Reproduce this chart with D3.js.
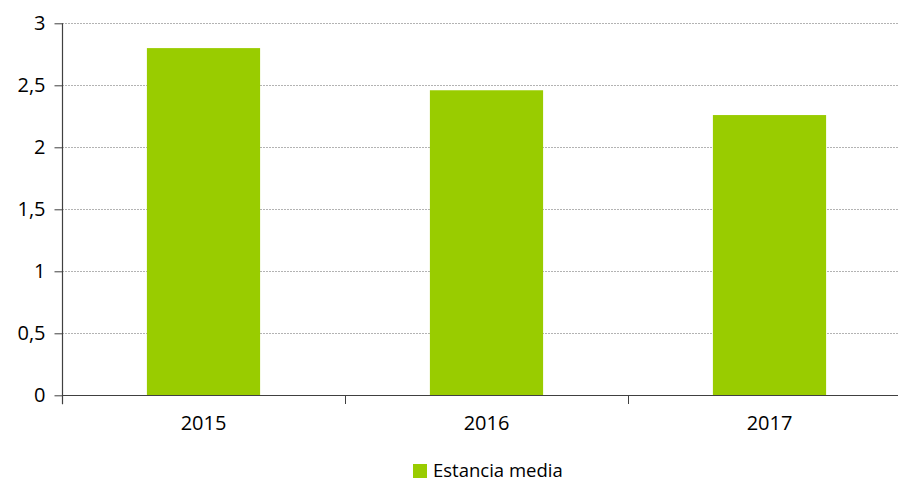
<!DOCTYPE html>
<html>
<head>
<meta charset="utf-8">
<script src="https://cdn.jsdelivr.net/npm/d3@7"></script>
<style>
  body { margin: 0; background: #fff; }
  text { font-family: "Open Sans", "Noto Sans", sans-serif; fill: #000; }
</style>
</head>
<body>
<div id="chart"></div>
<script>
// data
const years = ["2015", "2016", "2017"];
const estanciaMedia = [2.8, 2.46, 2.26];
const yTicks = [0, 0.5, 1, 1.5, 2, 2.5, 3];
const seriesName = "Estancia media";

const size = { width: 898, height: 483 };
const plot = { left: 62, right: 911, top: 23.3, bottom: 395.3 };

const svg = d3.select("#chart")
  .append("svg")
  .attr("width", size.width)
  .attr("height", size.height);

const x = d3.scaleBand()
  .domain(years)
  .range([plot.left, plot.right])
  .paddingInner(0.6)
  .paddingOuter(0.3);

const y = d3.scaleLinear()
  .domain([0, 3])
  .range([plot.bottom, plot.top]);

// grid lines
svg.append("g")
  .selectAll("line")
  .data(yTicks.filter(d => d > 0))
  .enter().append("line")
    .attr("x1", plot.left)
    .attr("x2", plot.right)
    .attr("y1", d => Math.round(y(d)) + 0.5)
    .attr("y2", d => Math.round(y(d)) + 0.5)
    .attr("stroke", "#b3b3b3")
    .attr("stroke-width", 1)
    .attr("stroke-dasharray", "2,1");

// bars
svg.append("g")
  .selectAll("rect")
  .data(estanciaMedia)
  .enter().append("rect")
    .attr("x", (d, i) => x(years[i]))
    .attr("y", d => y(d))
    .attr("width", x.bandwidth())
    .attr("height", d => y(0) - y(d))
    .attr("fill", "#99cc00");

// y axis
const yAxis = svg.append("g")
  .attr("transform", "translate(" + (plot.left + 0.5) + ",0)")
  .call(d3.axisLeft(y)
    .tickValues(yTicks)
    .tickSize(8)
    .tickPadding(9)
    .tickFormat(d => String(d).replace(".", ",")));

// x axis
const xAxis = svg.append("g")
  .attr("transform", "translate(0," + (Math.round(plot.bottom) + 0.5) + ")")
  .call(d3.axisBottom(x).tickSize(0).tickPadding(20));

// category boundary ticks
const step = x.step();
svg.append("g")
  .selectAll("line")
  .data(d3.range(years.length + 1))
  .enter().append("line")
    .attr("x1", i => Math.round(plot.left + i * step) + 0.5)
    .attr("x2", i => Math.round(plot.left + i * step) + 0.5)
    .attr("y1", Math.round(plot.bottom))
    .attr("y2", Math.round(plot.bottom) + 9)
    .attr("stroke", "#404040");

[yAxis, xAxis].forEach(g => {
  g.selectAll(".domain").attr("stroke", "#404040").attr("stroke-width", 1.2);
  g.selectAll(".tick line").attr("stroke", "#404040");
  g.selectAll("text").style("font-size", "20px").attr("fill", "#000");
});
yAxis.select(".domain").attr("d", "M0," + plot.top + "V" + (plot.bottom + 9));
xAxis.select(".domain").attr("d", "M" + plot.left + ",0H" + plot.right);

// legend
const legend = svg.append("g")
  .attr("transform", "translate(413,464)");
legend.append("rect")
  .attr("width", 14)
  .attr("height", 14)
  .attr("fill", "#99cc00");
legend.append("text")
  .attr("x", 20)
  .attr("y", 7)
  .attr("dy", "0.33em")
  .style("font-size", "18.5px")
  .text(seriesName);
</script>
</body>
</html>
